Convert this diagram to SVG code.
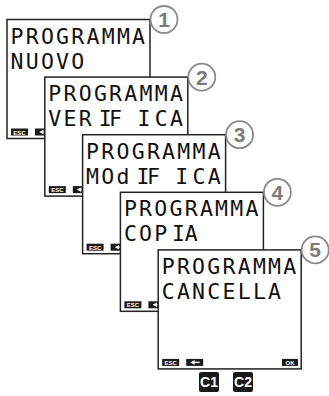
<svg xmlns="http://www.w3.org/2000/svg" width="329" height="396" viewBox="0 0 329 396">
<style>
.scr{fill:#fff;stroke:#222;stroke-width:1.5}
.lcd{font-family:"DejaVu Sans Mono","Liberation Mono",monospace;font-size:21.5px;fill:#111}
.badge{fill:#1a1a1a}
.bt{font-family:"Liberation Sans",Arial,sans-serif;font-size:6px;font-weight:bold;fill:#fff;text-anchor:middle}
.num{fill:#fff;stroke:#8a8a8a;stroke-width:1.8}
.nt{font-family:"Liberation Sans",Arial,sans-serif;font-size:21px;font-weight:bold;fill:#7a7a7a;text-anchor:middle}
.ck{font-family:"Liberation Sans",Arial,sans-serif;font-size:14px;font-weight:bold;fill:#fff;text-anchor:middle}
</style>
<defs>
<g id="escbtn">
<rect class="badge" x="0" y="0" width="17" height="7"/>
<text class="bt" x="8.5" y="6">ESC</text>
</g>
<g id="backbtn">
<rect class="badge" x="0" y="0" width="17" height="7"/>
<polygon points="4,3.5 8.5,1.2 8.5,5.8" fill="#fff"/>
<rect x="8.5" y="2.8" width="5" height="1.4" fill="#fff"/>
</g>
</defs>
<g id="connectors"/>
<g id="screen1">
<rect class="scr" x="7" y="19.5" width="143" height="119"/>
<text class="lcd" x="10.5 25.7 40.9 56.1 71.3 86.5 101.7 116.9 132.1" y="43.5">PROGRAMMA</text>
<text class="lcd" x="10.5 25.7 40.9 56.1 71.3" y="68.5">NUOVO</text>
<use href="#escbtn" x="11" y="128.5"/>
<use href="#backbtn" x="35" y="128.5"/>
<circle class="num" cx="164" cy="19.5" r="13.5"/>
<text class="nt" x="164" y="27">1</text>
</g>
<g id="screen2">
<rect class="scr" x="44.8" y="77.1" width="143" height="119"/>
<text class="lcd" x="48.3 63.5 78.7 93.9 109.1 124.3 139.5 154.7 169.9" y="101.1">PROGRAMMA</text>
<text class="lcd" x="48.3 63.5 78.7 90 98.8 109.1 125 137.5 154.7 169.9" y="126.1">VER IF ICA</text>
<use href="#escbtn" x="48.8" y="186.1"/>
<use href="#backbtn" x="72.8" y="186.1"/>
<circle class="num" cx="201.8" cy="77.1" r="13.5"/>
<text class="nt" x="201.8" y="84.6">2</text>
</g>
<g id="screen3">
<rect class="scr" x="82.6" y="134.7" width="143" height="119"/>
<text class="lcd" x="86.1 101.3 116.5 131.7 146.9 162.1 177.3 192.5 207.7" y="158.7">PROGRAMMA</text>
<text class="lcd" x="86.1 101.3 116.5 128 136.6 146.9 163 175.3 192.5 207.7" y="183.7">MOd IF ICA</text>
<use href="#escbtn" x="86.6" y="243.7"/>
<use href="#backbtn" x="110.6" y="243.7"/>
<circle class="num" cx="239.6" cy="134.7" r="13.5"/>
<text class="nt" x="239.6" y="142.2">3</text>
</g>
<g id="screen4">
<rect class="scr" x="120.4" y="192.3" width="143" height="119"/>
<text class="lcd" x="123.9 139.1 154.3 169.5 184.7 199.9 215.1 230.3 245.5" y="216.3">PROGRAMMA</text>
<text class="lcd" x="123.9 139.1 154.3 166 172 184.7" y="241.3">COP IA</text>
<use href="#escbtn" x="124.4" y="301.3"/>
<use href="#backbtn" x="148.4" y="301.3"/>
<circle class="num" cx="277.4" cy="192.3" r="13.5"/>
<text class="nt" x="277.4" y="199.8">4</text>
</g>
<g id="screen5">
<rect class="scr" x="158.2" y="249.9" width="143" height="119"/>
<text class="lcd" x="161.7 176.9 192.1 207.3 222.5 237.7 252.9 268.1 283.3" y="273.9">PROGRAMMA</text>
<text class="lcd" x="161.7 176.9 192.1 207.3 222.5 237.7 252.9 268.1" y="298.9">CANCELLA</text>
<use href="#escbtn" x="162.2" y="358.9"/>
<use href="#backbtn" x="186.2" y="358.9"/>
<rect class="badge" x="282" y="358.9" width="16" height="7"/>
<text class="bt" x="290" y="364.9">OK</text>
<circle class="num" cx="315.2" cy="249.9" r="13.5"/>
<text class="nt" x="315.2" y="257.4">5</text>
</g>
<g id="keyC1">
<rect x="199" y="372" width="20" height="20" rx="2" fill="#1a1a1a"/>
<text class="ck" x="209" y="387">C1</text>
</g>
<g id="keyC2">
<rect x="233" y="372" width="20" height="20" rx="2" fill="#1a1a1a"/>
<text class="ck" x="243" y="387">C2</text>
</g>
</svg>
